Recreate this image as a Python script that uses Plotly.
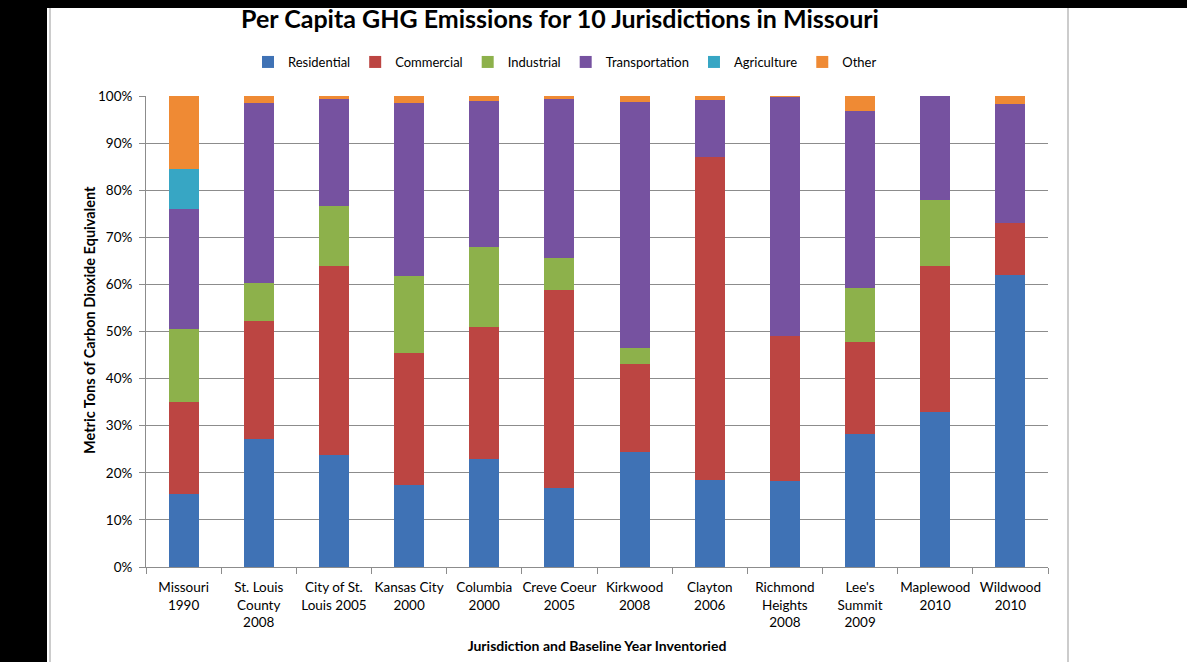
import plotly.graph_objects as go

# Jurisdictions (x categories) and sector shares in percent
jurisdictions = [
    "Missouri<br>1990", "St. Louis<br>County<br>2008", "City of St.<br>Louis 2005",
    "Kansas City<br>2000", "Columbia<br>2000", "Creve Coeur<br>2005",
    "Kirkwood<br>2008", "Clayton<br>2006", "Richmond<br>Heights<br>2008",
    "Lee's<br>Summit<br>2009", "Maplewood<br>2010", "Wildwood<br>2010",
]

residential = [15.4, 27.1, 23.7, 17.5, 22.9, 16.7, 24.4, 18.4, 18.3, 28.2, 33.0, 62.0]
commercial = [19.6, 25.2, 40.2, 28.0, 28.1, 42.1, 18.6, 68.6, 30.8, 19.6, 30.9, 11.0]
industrial = [15.5, 8.0, 12.7, 16.3, 17.0, 6.9, 3.5, 0.0, 0.0, 11.5, 14.0, 0.0]
transportation = [25.5, 38.3, 22.7, 36.7, 30.9, 33.7, 52.3, 12.2, 50.7, 37.6, 22.1, 25.3]
agriculture = [8.6, 0, 0, 0, 0, 0, 0, 0, 0, 0, 0, 0]
other = [15.4, 1.4, 0.7, 1.5, 1.1, 0.6, 1.2, 0.8, 0.2, 3.1, 0.0, 1.7]

sectors = [
    ("Residential", residential, "#3F72B5"),
    ("Commercial", commercial, "#BC4542"),
    ("Industrial", industrial, "#8DB14B"),
    ("Transportation", transportation, "#7652A0"),
    ("Agriculture", agriculture, "#37A6C4"),
    ("Other", other, "#EF8A34"),
]

FONT = "Lato"

fig = go.Figure()
for name, vals, color in sectors:
    fig.add_trace(go.Bar(
        x=jurisdictions, y=vals, name=name,
        marker=dict(color=color, line=dict(width=0)),
    ))

# plot area in pixels: x 146..1048, y 96..567
L, R, T, B = 146, 1048, 96, 567
W, H = R - L, B - T


def px_x(p):
    return (p - L) / W


def px_y(p):
    return (B - p) / H


shapes = [
    # black frame bands from the screenshot
    dict(type="rect", xref="paper", yref="paper", x0=px_x(-5), x1=px_x(47),
         y0=px_y(670), y1=px_y(-5), fillcolor="black", line_width=0, layer="above"),
    dict(type="rect", xref="paper", yref="paper", x0=px_x(-5), x1=px_x(1195),
         y0=px_y(8), y1=px_y(-5), fillcolor="black", line_width=0, layer="above"),
    # thin gray page edges
    dict(type="line", xref="paper", yref="paper", x0=px_x(50), x1=px_x(50),
         y0=px_y(670), y1=px_y(8), line=dict(color="#BBBBBB", width=1.5)),
    dict(type="line", xref="paper", yref="paper", x0=px_x(1068), x1=px_x(1068),
         y0=px_y(670), y1=px_y(8), line=dict(color="#BBBBBB", width=1.5)),
]

fig.update_layout(
    barmode="stack",
    bargap=0.6,
    width=1187, height=662,
    margin=dict(l=L, r=1187 - R, t=T, b=662 - B),
    paper_bgcolor="white",
    plot_bgcolor="white",
    font=dict(family=FONT, color="black", size=13),
    title=dict(
        text="<b>Per Capita GHG Emissions for 10 Jurisdictions in Missouri</b>",
        x=560 / 1187, xref="container", xanchor="center",
        y=1 - 19 / 662, yref="container", yanchor="middle",
        font=dict(size=25, family=FONT),
    ),
    legend=dict(
        orientation="h", traceorder="normal",
        x=px_x(565), xanchor="center", y=px_y(62), yanchor="middle",
        font=dict(size=13, family=FONT), itemwidth=30,
        bgcolor="rgba(0,0,0,0)",
    ),
    shapes=shapes,
    annotations=[dict(
        text="<b>Metric Tons of Carbon Dioxide Equivalent</b>",
        xref="paper", yref="paper", x=px_x(89), y=px_y(320),
        xanchor="center", yanchor="middle", textangle=-90,
        showarrow=False, font=dict(size=14.5),
    )],
)

fig.update_yaxes(
    range=[0, 100], dtick=10, ticksuffix="%",
    showgrid=True, gridcolor="#8C8C8C", gridwidth=1,
    showline=True, linecolor="#8C8C8C", linewidth=1,
    ticks="outside", ticklen=6, tickcolor="#8C8C8C",
    tickfont=dict(size=13.5), ticklabelstandoff=4,
    zeroline=False,
)
fig.update_xaxes(
    showline=True, linecolor="#8C8C8C", linewidth=1,
    ticks="outside", tickson="boundaries", ticklen=6, tickcolor="#8C8C8C",
    tickangle=0, tickfont=dict(size=13.5), ticklabelstandoff=8,
    title=dict(text="<b>Jurisdiction and Baseline Year Inventoried</b>",
               font=dict(size=14), standoff=11),
)

# page body has a default margin; drop it so the figure sits at the window origin
fig.write_html("out.html", config={"displayModeBar": False},
               post_script="document.body.style.margin='0';")
